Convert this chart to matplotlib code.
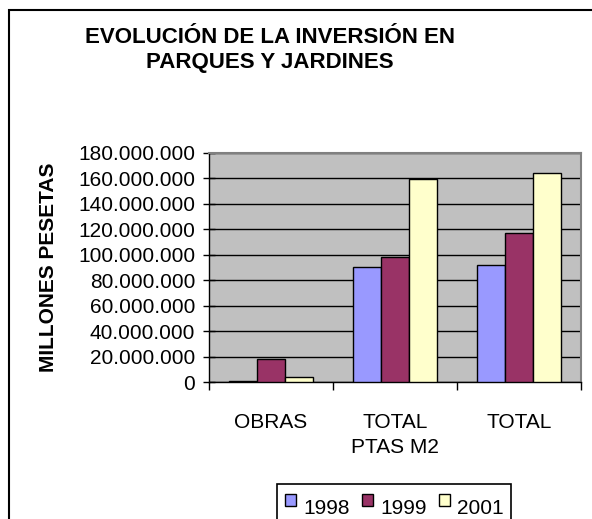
import matplotlib.pyplot as plt
import matplotlib.patches as mpatches
import numpy as np
from matplotlib.ticker import FuncFormatter

plt.rcParams['font.family'] = ['Liberation Sans', 'DejaVu Sans']

categories = ['OBRAS', 'TOTAL\nPTAS M2', 'TOTAL']
years = ['1998', '1999', '2001']
v1998 = [1000000, 90500000, 92200000]
v1999 = [18000000, 98500000, 117400000]
v2001 = [4200000, 159800000, 164500000]
colors = ['#9999FF', '#993366', '#FFFFCC']

W, H = 592, 519
fig = plt.figure(figsize=(W / 100, H / 100), dpi=100)
ax = fig.add_axes([209 / W, 1 - 382 / H, (581 - 209) / W, (382 - 153) / H])
ax.set_facecolor('#C0C0C0')

x = np.arange(len(categories))
bw = 0.226
for i, (vals, c) in enumerate(zip([v1998, v1999, v2001], colors)):
    ax.bar(x + (i - 1) * bw, vals, bw, color=c, edgecolor='black',
           linewidth=1.0, zorder=3)

ax.set_xlim(-0.5, 2.5)
ax.set_ylim(0, 180000000)
ax.set_yticks(np.arange(0, 180000001, 20000000))
ax.yaxis.set_major_formatter(FuncFormatter(lambda v, p: f'{int(v):,}'.replace(',', '.')))
ax.grid(axis='y', color='black', linewidth=1.0, zorder=1)
ax.set_axisbelow(True)

ax.set_xticks(x)
ax.set_xticklabels(categories, fontsize=15, linespacing=1.45)
ax.set_xticks([-0.5, 0.5, 1.5, 2.5], minor=True)
ax.tick_params(axis='x', which='major', length=0, pad=22)
ax.tick_params(axis='x', which='minor', length=6, direction='out', width=1)
ax.tick_params(axis='y', direction='inout', length=8, width=1, labelsize=15, pad=6)

for s in ['left', 'bottom']:
    ax.spines[s].set_color('black')
    ax.spines[s].set_linewidth(1.0)
for s in ['top', 'right']:
    ax.spines[s].set_color('#808080')
    ax.spines[s].set_linewidth(1.5)

ax.set_ylabel('MILLONES PESETAS', fontsize=15, fontweight='bold')
ax.yaxis.set_label_coords((58 - 209) / (581 - 209), 0.5)

fig.text(270 / W, 1 - 50 / H, 'EVOLUCIÓN DE LA INVERSIÓN EN\nPARQUES Y JARDINES',
         ha='center', va='center', fontsize=16, fontweight='bold', linespacing=1.2)

# outer chart border
fig.add_artist(mpatches.Rectangle((9 / W, -0.05), 1.0, 1 - 10 / H + 0.05,
                                  transform=fig.transFigure, fill=False,
                                  edgecolor='black', linewidth=1.5))

# legend
fig.add_artist(mpatches.Rectangle((277 / W, -0.05), (511 - 277) / W, 1 - 484 / H + 0.05,
                                  transform=fig.transFigure, fill=True, facecolor='white',
                                  edgecolor='black', linewidth=1.2))
for i, (lab, c) in enumerate(zip(years, colors)):
    x0 = 285 + i * 77
    fig.add_artist(mpatches.Rectangle((x0 / W, 1 - 506 / H), 11 / W, 12 / H,
                                      transform=fig.transFigure, facecolor=c,
                                      edgecolor='black', linewidth=1.0))
    fig.text((x0 + 18) / W, 1 - 518 / H, lab, ha='left', va='bottom', fontsize=15)

fig.savefig('out.png', dpi=100)
